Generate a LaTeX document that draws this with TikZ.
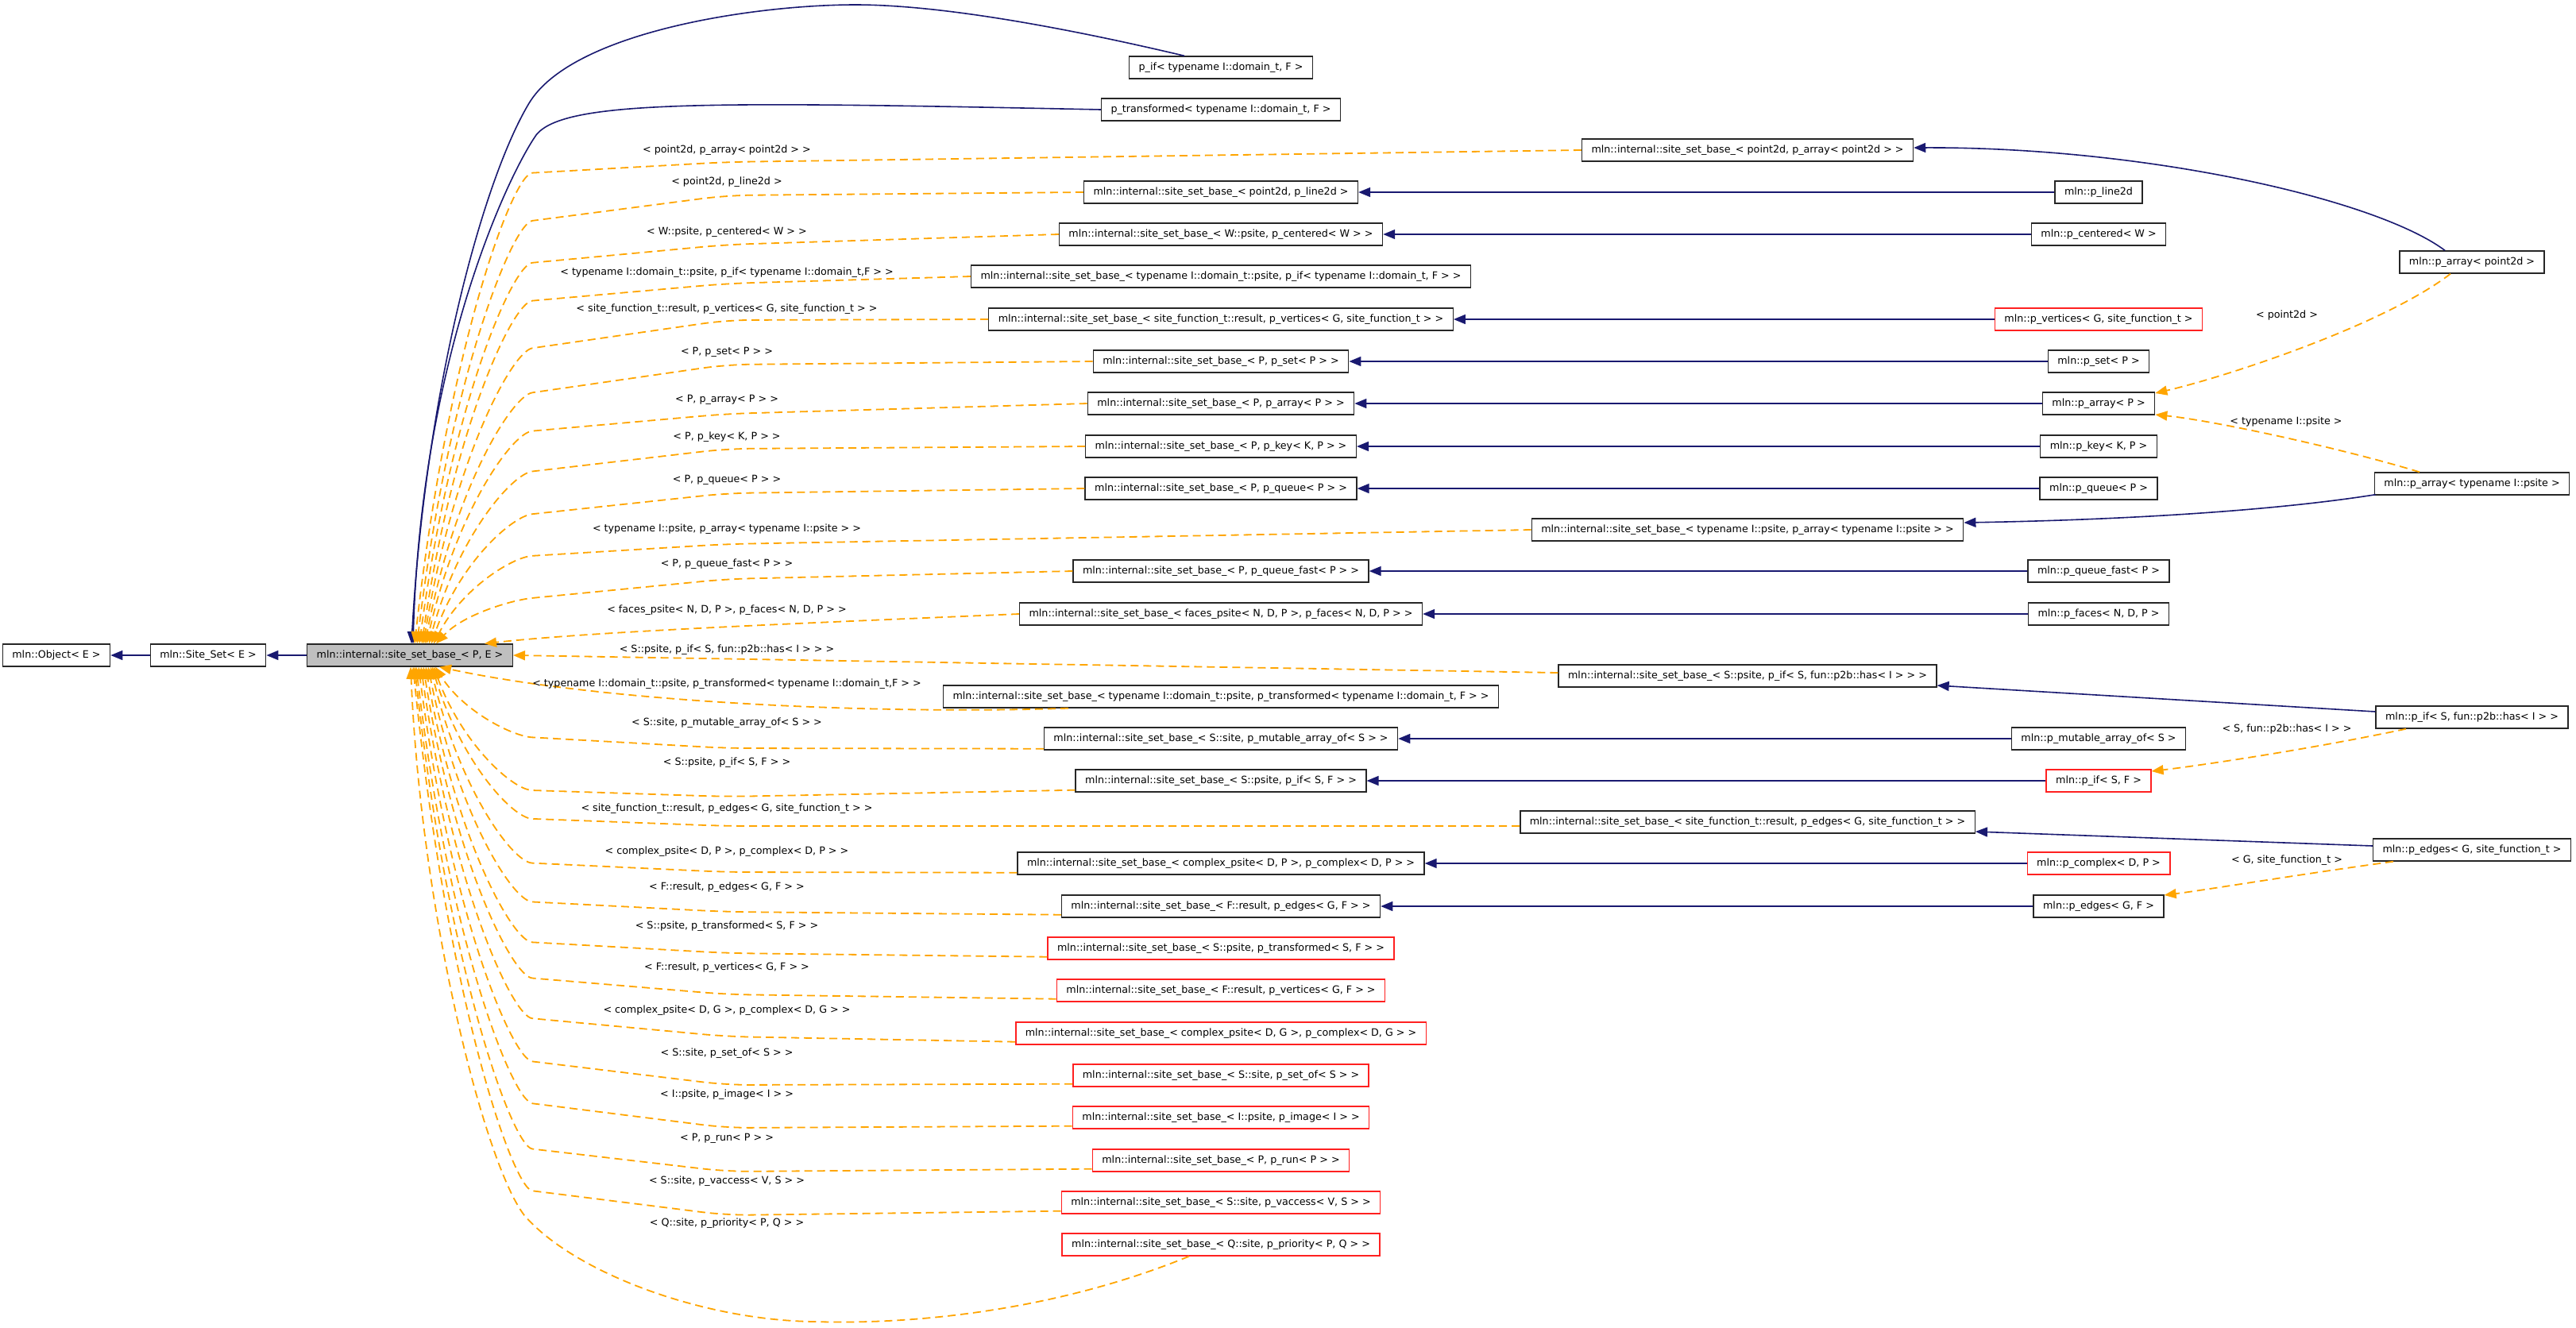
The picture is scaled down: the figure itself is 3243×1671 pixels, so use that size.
\documentclass[tikz,border=0pt]{standalone}
\usepackage{fontspec}
\setmainfont{DejaVu Sans}
\usetikzlibrary{arrows.meta,calc}
\definecolor{navy}{HTML}{191970}
\definecolor{orng}{HTML}{FFA500}
\definecolor{undocred}{HTML}{FF2020}
\newcommand\lbl{\fontsize{12.7pt}{15pt}\selectfont}
\tikzset{
  cls/.style={draw=black!85, line width=1.4pt, fill=white, font=\lbl, inner xsep=12pt, inner ysep=0pt, minimum height=28pt},
  undoc/.style={cls, draw=undocred},
  cur/.style={cls, fill=black!25},
  inh/.style={draw=navy, line width=1.6pt, -{Triangle[length=15pt,width=12pt]}},
  tmplc/.style={draw=orng, line width=1.8pt, dash pattern=on 10pt off 6pt, -{Triangle[length=15pt,width=12pt]}},
  tmpl/.style={tmplc, rounded corners=30pt},
  elbl/.style={font=\lbl, inner sep=0pt},
}
% #1 start, #2 y at x=915, #3 y at bend x=700, #4 tip x offset from base centre, #5 anchor, #6 tip y
\newcommand\tedge[6]{%
  \draw[tmpl] #1 -- (915,#2) -- (700,#3) .. controls (645,{#3+(#3-#2)*0.256}) and ({516+#4+0.23*(184-#4)},{#6+0.62*(#3-#6)}) .. ([xshift=#4pt]base.#5);}
\begin{document}
\begin{tikzpicture}[x=1pt,y=-1pt]
\useasboundingbox (0,0) rectangle (3243,1671);
% left chain
\node[cls] (obj) at (71,825) {mln::Object< E >};
\node[cls] (ss) at (262,825) {mln::Site\_Set< E >};
\node[cur] (base) at (516,825) {mln::internal::site\_set\_base\_< P, E >};
% middle column
\node[cls] (m_pif) at (1537,85) {p\_if< typename I::domain\_t, F >};
\node[cls] (m_ptr) at (1537,138) {p\_transformed< typename I::domain\_t, F >};
\node[cls] (m_l2d) at (1537,242) {mln::internal::site\_set\_base\_< point2d, p\_line2d >};
\node[cls] (m_cen) at (1537,295) {mln::internal::site\_set\_base\_< W::psite, p\_centered< W > >};
\node[cls] (m_tif) at (1537,348) {mln::internal::site\_set\_base\_< typename I::domain\_t::psite, p\_if< typename I::domain\_t, F > >};
\node[cls] (m_ver) at (1537,402) {mln::internal::site\_set\_base\_< site\_function\_t::result, p\_vertices< G, site\_function\_t > >};
\node[cls] (m_set) at (1537,455) {mln::internal::site\_set\_base\_< P, p\_set< P > >};
\node[cls] (m_arr) at (1537,508) {mln::internal::site\_set\_base\_< P, p\_array< P > >};
\node[cls] (m_key) at (1537,562) {mln::internal::site\_set\_base\_< P, p\_key< K, P > >};
\node[cls] (m_que) at (1537,615) {mln::internal::site\_set\_base\_< P, p\_queue< P > >};
\node[cls] (m_qf) at (1537,719) {mln::internal::site\_set\_base\_< P, p\_queue\_fast< P > >};
\node[cls] (m_fac) at (1537,773) {mln::internal::site\_set\_base\_< faces\_psite< N, D, P >, p\_faces< N, D, P > >};
\node[cls] (m_ttr) at (1537,877) {mln::internal::site\_set\_base\_< typename I::domain\_t::psite, p\_transformed< typename I::domain\_t, F > >};
\node[cls] (m_mut) at (1537,930) {mln::internal::site\_set\_base\_< S::site, p\_mutable\_array\_of< S > >};
\node[cls] (m_pif2) at (1537,983) {mln::internal::site\_set\_base\_< S::psite, p\_if< S, F > >};
\node[cls] (m_cdp) at (1537,1087) {mln::internal::site\_set\_base\_< complex\_psite< D, P >, p\_complex< D, P > >};
\node[cls] (m_egf) at (1537,1141) {mln::internal::site\_set\_base\_< F::result, p\_edges< G, F > >};
\node[undoc] (m_tsf) at (1537,1194) {mln::internal::site\_set\_base\_< S::psite, p\_transformed< S, F > >};
\node[undoc] (m_vgf) at (1537,1247) {mln::internal::site\_set\_base\_< F::result, p\_vertices< G, F > >};
\node[undoc] (m_cdg) at (1537,1301) {mln::internal::site\_set\_base\_< complex\_psite< D, G >, p\_complex< D, G > >};
\node[undoc] (m_sof) at (1537,1354) {mln::internal::site\_set\_base\_< S::site, p\_set\_of< S > >};
\node[undoc] (m_img) at (1537,1407) {mln::internal::site\_set\_base\_< I::psite, p\_image< I > >};
\node[undoc] (m_run) at (1537,1461) {mln::internal::site\_set\_base\_< P, p\_run< P > >};
\node[undoc] (m_vac) at (1537,1514) {mln::internal::site\_set\_base\_< S::site, p\_vaccess< V, S > >};
\node[undoc] (m_pri) at (1537,1567) {mln::internal::site\_set\_base\_< Q::site, p\_priority< P, Q > >};
% middle-right column
\node[cls] (r_pa2) at (2200,189) {mln::internal::site\_set\_base\_< point2d, p\_array< point2d > >};
\node[cls] (r_pai) at (2200,667) {mln::internal::site\_set\_base\_< typename I::psite, p\_array< typename I::psite > >};
\node[cls] (r_pih) at (2200,851) {mln::internal::site\_set\_base\_< S::psite, p\_if< S, fun::p2b::has< I > > >};
\node[cls] (r_pes) at (2200,1035) {mln::internal::site\_set\_base\_< site\_function\_t::result, p\_edges< G, site\_function\_t > >};
% right column
\node[cls] (c_l2d) at (2642,242) {mln::p\_line2d};
\node[cls] (c_cen) at (2642,295) {mln::p\_centered< W >};
\node[undoc] (c_ver) at (2642,402) {mln::p\_vertices< G, site\_function\_t >};
\node[cls] (c_set) at (2642,455) {mln::p\_set< P >};
\node[cls] (c_arr) at (2642,508) {mln::p\_array< P >};
\node[cls] (c_key) at (2642,562) {mln::p\_key< K, P >};
\node[cls] (c_que) at (2642,615) {mln::p\_queue< P >};
\node[cls] (c_qf) at (2642,719) {mln::p\_queue\_fast< P >};
\node[cls] (c_fac) at (2642,773) {mln::p\_faces< N, D, P >};
\node[cls] (c_mut) at (2642,930) {mln::p\_mutable\_array\_of< S >};
\node[undoc] (c_pif) at (2642,983) {mln::p\_if< S, F >};
\node[undoc] (c_cdp) at (2642,1087) {mln::p\_complex< D, P >};
\node[cls] (c_egf) at (2642,1141) {mln::p\_edges< G, F >};
% far right column
\node[cls] (f_pa2) at (3112,330) {mln::p\_array< point2d >};
\node[cls] (f_pai) at (3112,609) {mln::p\_array< typename I::psite >};
\node[cls] (f_pih) at (3112,903) {mln::p\_if< S, fun::p2b::has< I > >};
\node[cls] (f_pes) at (3112,1070) {mln::p\_edges< G, site\_function\_t >};

% ---- inheritance edges
\draw[inh] (ss) -- (obj);
\draw[inh] (base) -- (ss);
\draw[inh] ([xshift=-46pt]m_pif.north) .. controls (1380,44) and (1200,6) .. (1077,6)
  .. controls (950,6) and (720,40) .. (666,130)
  .. controls (606,230) and (535,500) .. ([xshift=2pt]base.north);
\draw[inh] (m_ptr.west) .. controls (900,128) and (710,125) .. (675,170)
  .. controls (640,220) and (530,450) .. ([xshift=4pt]base.north);
\foreach \a/\b in {c_l2d/m_l2d, c_cen/m_cen, c_ver/m_ver, c_set/m_set, c_arr/m_arr, c_key/m_key, c_que/m_que, c_qf/m_qf, c_fac/m_fac, c_mut/m_mut, c_pif/m_pif2, c_cdp/m_cdp, c_egf/m_egf}
  \draw[inh] (\a.west) -- (\b.east);
\draw[inh] ([xshift=-34pt]f_pa2.north) .. controls (2990,250) and (2700,185) .. ([yshift=3pt]r_pa2.east);
\draw[inh] ([xshift=2pt,yshift=1pt]f_pai.south west) .. controls (2850,645) and (2650,655) .. ([yshift=9pt]r_pai.east);
\draw[inh] ([yshift=7pt]f_pih.west) -- ([yshift=-12pt]r_pih.east);
\draw[inh] ([yshift=5pt]f_pes.west) -- ([yshift=-12pt]r_pes.east);

% ---- template edges on the right
\draw[tmplc] ([xshift=-27pt]f_pa2.south) .. controls (3000,410) and (2800,475) .. ([yshift=13pt]c_arr.east);
\draw[tmplc] ([xshift=-66pt]f_pai.north) .. controls (2950,565) and (2790,530) .. ([yshift=-14pt]c_arr.east);
\draw[tmplc] ([xshift=-83pt]f_pih.south) .. controls (2900,945) and (2760,965) .. ([yshift=12pt]c_pif.east);
\draw[tmplc] ([xshift=-99pt]f_pes.south) .. controls (2900,1100) and (2780,1120) .. ([yshift=14pt]c_egf.east);
\node[elbl] (lr1) at (2879,397) {< point2d >};
\node[elbl] (lr2) at (2878,531) {< typename I::psite >};
\node[elbl] (lr3) at (2879,918) {< S, fun::p2b::has< I > >};
\node[elbl] (lr4) at (2879,1083) {< G, site\_function\_t >};

% ---- template edges into the base (upper)
\tedge{(r_pa2.west)}{204}{216}{6}{north}{811}
\tedge{(m_l2d.west)}{246}{274}{9}{north}{811}
\tedge{(m_cen.west)}{308}{328}{12}{north}{811}
\tedge{(m_tif.west)}{357}{376}{15}{north}{811}
\tedge{(m_ver.west)}{403}{434}{17}{north}{811}
\tedge{(m_set.west)}{459}{490}{19}{north}{811}
\tedge{(m_arr.west)}{521}{540}{21}{north}{811}
\tedge{(m_key.west)}{565}{590}{24}{north}{811}
\tedge{(m_que.west)}{621}{644}{27}{north}{811}
\tedge{(r_pai.west)}{685}{698}{30}{north}{811}
\tedge{(m_qf.west)}{729}{750}{33}{north}{811}
\draw[tmplc] (m_fac.west) .. controls (1000,785) and (750,795) .. ([xshift=94pt]base.north);
\draw[tmplc] ([yshift=4pt]r_pih.west) -- (base.east);
\draw[tmplc] ([xshift=158pt]m_ttr.south west) .. controls (1100,900) and (760,884) .. ([xshift=37pt]base.south);
% ---- lower
\tedge{([yshift=2pt]m_mut.south west)}{942}{930}{32}{south}{839}
\tedge{([yshift=3pt]m_pif2.south west)}{1003}{996}{30}{south}{839}
\tedge{([yshift=-5pt]r_pes.west)}{1040}{1032}{28}{south}{839}
\tedge{([yshift=3pt]m_cdp.south west)}{1098}{1088}{26}{south}{839}
\tedge{([yshift=4pt]m_egf.south west)}{1148}{1137}{23}{south}{839}
\tedge{([yshift=4pt]m_tsf.south west)}{1200}{1188}{20}{south}{839}
\tedge{([yshift=4pt]m_vgf.south west)}{1252}{1234}{17}{south}{839}
\tedge{([yshift=4pt]m_cdg.south west)}{1305}{1285}{14}{south}{839}
\tedge{([yshift=4pt]m_sof.south west)}{1366}{1340}{11}{south}{839}
\tedge{([yshift=4pt]m_img.south west)}{1420}{1393}{8}{south}{839}
\tedge{([yshift=4pt]m_run.south west)}{1475}{1450}{6}{south}{839}
\tedge{([yshift=4pt]m_vac.south west)}{1530}{1503}{4}{south}{839}
\draw[tmplc] ([xshift=-40pt]m_pri.south) .. controls (1330,1650) and (1150,1668) .. (1025,1664)
  .. controls (880,1662) and (720,1600) .. (660,1530)
  .. controls (610,1465) and (530,1150) .. ([xshift=1pt]base.south);

% ---- labels
\node[elbl] (l01) at (915,189) {< point2d, p\_array< point2d > >};
\node[elbl] (l02) at (915,229) {< point2d, p\_line2d >};
\node[elbl] (l03) at (915,292) {< W::psite, p\_centered< W > >};
\node[elbl] (l04) at (915,343) {< typename I::domain\_t::psite, p\_if< typename I::domain\_t,F > >};
\node[elbl] (l05) at (915,389) {< site\_function\_t::result, p\_vertices< G, site\_function\_t > >};
\node[elbl] (l06) at (915,443) {< P, p\_set< P > >};
\node[elbl] (l07) at (915,503) {< P, p\_array< P > >};
\node[elbl] (l08) at (915,550) {< P, p\_key< K, P > >};
\node[elbl] (l09) at (915,604) {< P, p\_queue< P > >};
\node[elbl] (l10) at (915,666) {< typename I::psite, p\_array< typename I::psite > >};
\node[elbl] (l11) at (915,710) {< P, p\_queue\_fast< P > >};
\node[elbl] (l12) at (915,768) {< faces\_psite< N, D, P >, p\_faces< N, D, P > >};
\node[elbl] (l13) at (915,818) {< S::psite, p\_if< S, fun::p2b::has< I > > >};
\node[elbl] (l14) at (915,861) {< typename I::domain\_t::psite, p\_transformed< typename I::domain\_t,F > >};
\node[elbl] (l15) at (915,910) {< S::site, p\_mutable\_array\_of< S > >};
\node[elbl] (l16) at (915,960) {< S::psite, p\_if< S, F > >};
\node[elbl] (l17) at (915,1018) {< site\_function\_t::result, p\_edges< G, site\_function\_t > >};
\node[elbl] (l18) at (915,1072) {< complex\_psite< D, P >, p\_complex< D, P > >};
\node[elbl] (l19) at (915,1117) {< F::result, p\_edges< G, F > >};
\node[elbl] (l20) at (915,1166) {< S::psite, p\_transformed< S, F > >};
\node[elbl] (l21) at (915,1218) {< F::result, p\_vertices< G, F > >};
\node[elbl] (l22) at (915,1272) {< complex\_psite< D, G >, p\_complex< D, G > >};
\node[elbl] (l23) at (915,1326) {< S::site, p\_set\_of< S > >};
\node[elbl] (l24) at (915,1378) {< I::psite, p\_image< I > >};
\node[elbl] (l25) at (915,1433) {< P, p\_run< P > >};
\node[elbl] (l26) at (915,1487) {< S::site, p\_vaccess< V, S > >};
\node[elbl] (l27) at (915,1540) {< Q::site, p\_priority< P, Q > >};
\end{tikzpicture}
\end{document}
